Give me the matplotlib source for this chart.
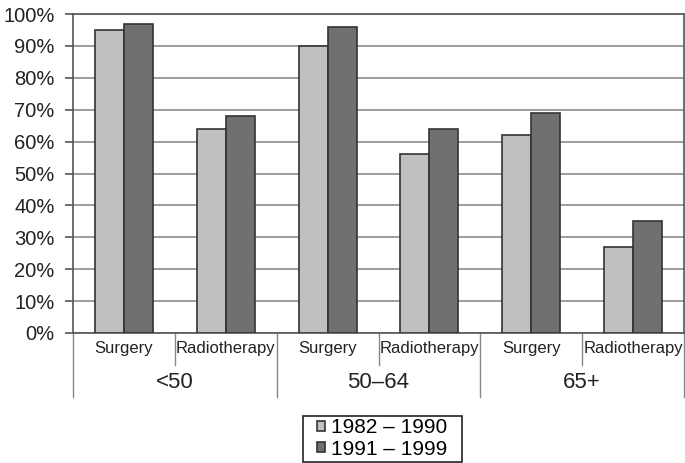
import matplotlib
matplotlib.use("Agg")
import matplotlib.pyplot as plt
from matplotlib.lines import Line2D
from matplotlib.patches import Rectangle
import numpy as np

plt.rcParams['font.family'] = ['Liberation Sans', 'DejaVu Sans']

treatments = ["Surgery", "Radiotherapy", "Surgery", "Radiotherapy", "Surgery", "Radiotherapy"]
age_groups = ["<50", "50\u201364", "65+"]
series_names = ["1982 \u2013 1990", "1991 \u2013 1999"]
values_1982_1990 = [95, 64, 90, 56, 62, 27]
values_1991_1999 = [97, 68, 96, 64, 69, 35]
y_ticks = [0, 10, 20, 30, 40, 50, 60, 70, 80, 90, 100]

W, H = 685, 463
fig = plt.figure(figsize=(W/100, H/100), dpi=100)
ax = fig.add_axes([73/W, 1-333/H, (684-73)/W, (333-14)/H])

x = np.arange(len(treatments))
w = 0.285
light = "#c0c0c0"
dark = "#707070"
edge = "#333333"
ax.bar(x - w/2, values_1982_1990, w, color=light, edgecolor=edge, linewidth=1.2, label=series_names[0], zorder=3)
ax.bar(x + w/2, values_1991_1999, w, color=dark, edgecolor=edge, linewidth=1.2, label=series_names[1], zorder=3)

ax.set_xlim(-0.5, len(treatments) - 0.5)
ax.set_ylim(0, 100)
ax.set_yticks(y_ticks)
ax.set_yticklabels([f"{t}%" for t in y_ticks], fontsize=14.5, color="#222222")
ax.yaxis.grid(True, color="#8c8c8c", linewidth=1.2, zorder=0)
ax.set_xticks([])
ax.tick_params(axis='y', length=6, color="#555555", width=1.2, pad=10*0.72)
for s in ax.spines.values():
    s.set_color("#555555")
    s.set_linewidth(1.2)

# Two-level category axis
trans = ax.get_xaxis_transform()
axh = (333-14)  # axes height in px
def ypx(px):
    return -px / axh

for i, t in enumerate(treatments):
    ax.text(i, ypx(16), t, transform=trans, ha='center', va='center', fontsize=12, color="#222222")
for i in range(1, len(treatments)):
    boundary = i - 0.5
    depth = 64 if i % 2 == 0 else 32
    ax.add_line(Line2D([boundary, boundary], [0, ypx(depth)], transform=trans, color="#888888", linewidth=1, clip_on=False))
for b in [-0.5, len(treatments) - 0.5]:
    ax.add_line(Line2D([b, b], [0, ypx(64)], transform=trans, color="#888888", linewidth=1, clip_on=False))
for g, name in enumerate(age_groups):
    ax.text(2*g + 0.5, ypx(49), name, transform=trans, ha='center', va='center', fontsize=16, color="#222222")

leg = fig.legend(loc='center', bbox_to_anchor=(382/W, 1-438.5/H), fontsize=15, frameon=False,
                 handlelength=0.4, handleheight=0.4,
                 handletextpad=0.3, borderpad=0.1, labelspacing=0.1, borderaxespad=0)
fig.patches.append(Rectangle((303/W, 1-462/H), (462-303)/W, (462-415.5)/H, transform=fig.transFigure,
                             fill=False, edgecolor="#222222", linewidth=1.2))

fig.savefig("out.png", dpi=100)
